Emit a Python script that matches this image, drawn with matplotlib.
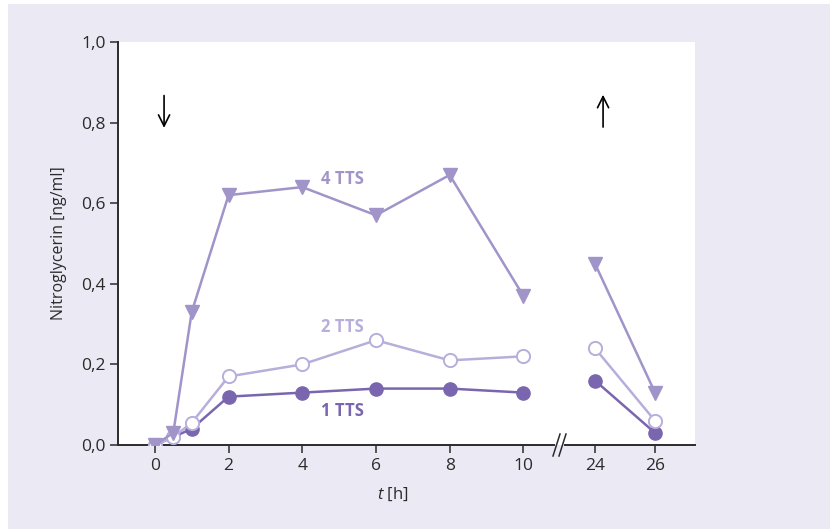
import matplotlib.pyplot as plt
from matplotlib.patches import Rectangle
from matplotlib.lines import Line2D

plt.rcParams['font.family'] = ['Open Sans', 'DejaVu Sans']
plt.rcParams['mathtext.fontset'] = 'custom'
plt.rcParams['mathtext.it'] = 'Open Sans:italic'
plt.rcParams['mathtext.rm'] = 'Open Sans'

# data
t_early = [0, 0.5, 1, 2, 4, 6, 8, 10]
t_late = [24, 26]
tts1_early = [0.0, 0.02, 0.04, 0.12, 0.13, 0.14, 0.14, 0.13]
tts1_late = [0.16, 0.03]
tts2_early = [0.0, 0.02, 0.055, 0.17, 0.20, 0.26, 0.21, 0.22]
tts2_late = [0.24, 0.06]
tts4_early = [0.0, 0.03, 0.33, 0.62, 0.64, 0.57, 0.67, 0.37]
tts4_late = [0.45, 0.13]

x_ticks_early = [0, 2, 4, 6, 8, 10]
x_ticks_late = [24, 26]
y_ticks = [0.0, 0.2, 0.4, 0.6, 0.8, 1.0]
y_ticklabels = ['0,0', '0,2', '0,4', '0,6', '0,8', '1,0']

c_dark = '#7a66ae'
c_mid = '#a194c9'
c_light = '#b8aedb'
bg = '#ebe9f4'
ink = '#2b2b2b'

W, H = 830, 529
fig = plt.figure(figsize=(W / 100, H / 100), dpi=100, facecolor='white')
fig.patches.append(Rectangle((8 / W, 0), 1 - 8 / W, 1 - 4 / H, transform=fig.transFigure,
                             facecolor=bg, edgecolor='none', zorder=-10))

bottom = (H - 445) / H
height = (445 - 42) / H
ax1 = fig.add_axes([118 / W, bottom, (558 - 118) / W, height])
ax2 = fig.add_axes([558 / W, bottom, (695 - 558) / W, height])

for ax, xs, d1, d2, d4 in [(ax1, t_early, tts1_early, tts2_early, tts4_early),
                           (ax2, t_late, tts1_late, tts2_late, tts4_late)]:
    ax.plot(xs, d1, color=c_dark, lw=1.8, marker='o', ms=9.5, mfc=c_dark, mec=c_dark, zorder=3)
    ax.plot(xs, d2, color=c_light, lw=1.8, marker='o', ms=9.5, mfc='white', mec=c_light,
            mew=1.4, zorder=4)
    ax.plot(xs, d4, color=c_mid, lw=1.8, marker='v', ms=10.5, mfc=c_mid, mec=c_mid, zorder=5)
    ax.set_ylim(0, 1.0)
    ax.set_facecolor('white')
    for s in ['top', 'right']:
        ax.spines[s].set_visible(False)
    ax.spines['bottom'].set_color(ink)
    ax.spines['bottom'].set_linewidth(1.4)
    ax.tick_params(axis='x', direction='out', length=6, width=1.1, color=ink,
                   labelsize=12.5, labelcolor=ink, pad=3)

ax1.set_xlim(-1.0, 10.94)
ax2.set_xlim(22.77, 27.33)
ax1.set_xticks(x_ticks_early)
ax2.set_xticks(x_ticks_late)
ax1.spines['bottom'].set_bounds(-1.0, 10.82)
ax2.spines['bottom'].set_bounds(23.0, 27.33)

ax1.set_yticks(y_ticks)
ax1.set_yticklabels(y_ticklabels)
ax1.spines['left'].set_color(ink)
ax1.spines['left'].set_linewidth(1.4)
ax1.tick_params(axis='y', direction='out', length=6, width=1.1, color=ink,
                labelsize=12.5, labelcolor=ink, pad=3)
ax2.spines['left'].set_visible(False)
ax2.set_yticks([])

ax1.set_ylabel('Nitroglycerin [ng/ml]', fontsize=11.5, color=ink, labelpad=10)
fig.text(393 / W, 1 - 494 / H, r'$\mathit{t}$ [h]', fontsize=12, color=ink, ha='center', va='center')

# series labels
ax1.text(5.1, 0.66, '4 TTS', color=c_mid, fontsize=12, fontweight='bold', ha='center', va='center')
ax1.text(5.1, 0.293, '2 TTS', color=c_light, fontsize=12, fontweight='bold', ha='center', va='center')
ax1.text(5.1, 0.085, '1 TTS', color=c_dark, fontsize=12, fontweight='bold', ha='center', va='center')

# application / removal arrows
ax1.annotate('', xy=(0.25, 0.78), xytext=(0.25, 0.874),
             arrowprops=dict(arrowstyle='->', color='black', lw=1.2, mutation_scale=20))
ax2.annotate('', xy=(24.27, 0.876), xytext=(24.27, 0.782),
             arrowprops=dict(arrowstyle='->', color='black', lw=1.2, mutation_scale=20))

# axis break marks
for x0 in [553, 559]:
    fig.lines.append(Line2D([x0 / W, (x0 + 7) / W], [1 - 456 / H, 1 - 434 / H],
                            transform=fig.transFigure, color=ink, lw=1.1))

fig.savefig('out.png', dpi=100, facecolor=fig.get_facecolor())
